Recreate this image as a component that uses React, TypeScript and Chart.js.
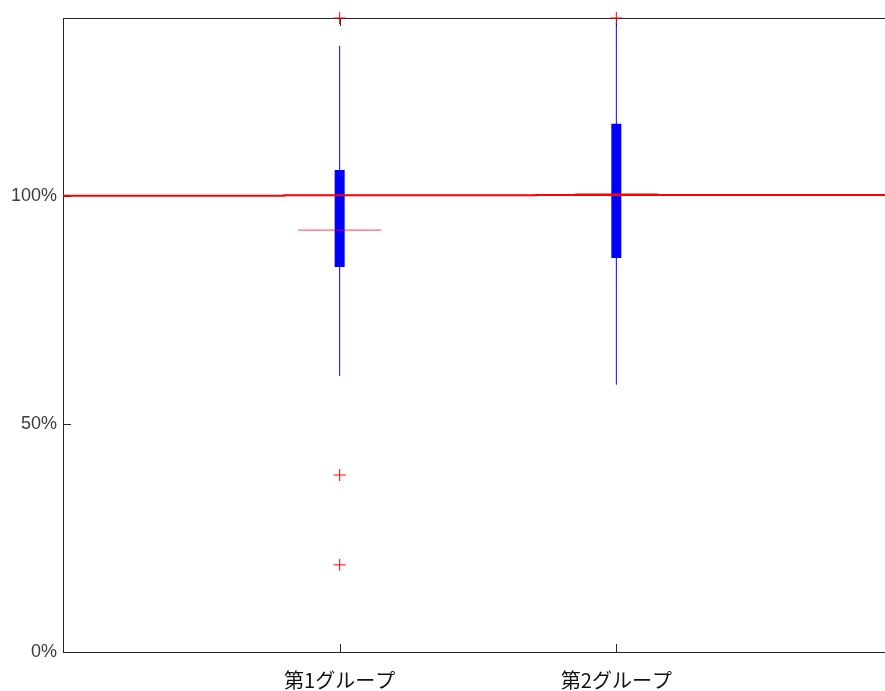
import React, { useEffect, useRef } from "react";
import { Chart, registerables } from "chart.js";

Chart.register(...registerables);

// ---- data ----
const categories = ["第1グループ", "第2グループ"];
const categoryPositions = [1, 2];
const whiskerLow = [60.5, 58.6];
const q1 = [84.4, 86.4];
const medians = [92.5, 100.45];
const q3 = [105.7, 115.8];
const whiskerHigh = [132.9, 138.0];
const outliersGroup1 = [139.0, 38.8, 19.1];
const outliersGroup2 = [139.0];
const yTickValues = [0, 50, 100];
// red reference line (stepped around 100%)
const refLineX = [0, 0.8, 1.71, 2.8, 3];
const refLineY = [99.8, 100.05, 100.15, 100.2, 100.2];

const X_MIN = 0;
const X_MAX = 3;
const Y_MIN = 0;
const Y_MAX = 139;
const MEDIAN_HALF = 0.15;

const framePlugin = {
  id: "matlabFrame",
  beforeDatasetsDraw(chart: any) {
    const { ctx, chartArea } = chart;
    const { left, top, right, bottom } = chartArea;
    const xs = chart.scales.x;
    const ys = chart.scales.y;
    ctx.save();
    ctx.strokeStyle = "#262626";
    ctx.lineWidth = 1;
    ctx.strokeRect(Math.round(left) + 0.5, Math.round(top) + 0.5, Math.round(right - left), Math.round(bottom - top));
    const tl = 8;
    ctx.beginPath();
    for (const t of xs.ticks) {
      const px = Math.round(xs.getPixelForValue(t.value)) + 0.5;
      ctx.moveTo(px, bottom);
      ctx.lineTo(px, bottom - tl);
      ctx.moveTo(px, top);
      ctx.lineTo(px, top + tl);
    }
    for (const t of ys.ticks) {
      const py = Math.round(ys.getPixelForValue(t.value)) + 0.5;
      ctx.moveTo(left, py);
      ctx.lineTo(left + tl, py);
      ctx.moveTo(right, py);
      ctx.lineTo(right - tl, py);
    }
    ctx.stroke();
    ctx.restore();
  },
};

export default function App() {
  const canvasRef = useRef<HTMLCanvasElement | null>(null);

  useEffect(() => {
    document.body.style.margin = "0";
    const canvas = canvasRef.current;
    if (!canvas) return;

    const datasets: any[] = [];
    categoryPositions.forEach((pos, i) => {
      datasets.push({
        label: "whisker" + i,
        data: [
          { x: pos, y: whiskerLow[i] },
          { x: pos, y: whiskerHigh[i] },
        ],
        showLine: true,
        borderColor: "#0000ff",
        borderWidth: 1,
        pointRadius: 0,
        order: 5,
      });
      datasets.push({
        label: "box" + i,
        data: [
          { x: pos, y: q1[i] },
          { x: pos, y: q3[i] },
        ],
        showLine: true,
        borderColor: "#0000ff",
        borderWidth: 10,
        borderCapStyle: "butt",
        pointRadius: 0,
        order: 4,
      });
      datasets.push({
        label: "median" + i,
        data: [
          { x: pos - MEDIAN_HALF, y: medians[i] },
          { x: pos + MEDIAN_HALF, y: medians[i] },
        ],
        showLine: true,
        borderColor: "rgba(255,0,0,0.75)",
        borderWidth: 1,
        pointRadius: 0,
        order: 2,
      });
    });
    datasets.push({
      label: "reference",
      data: refLineX.map((x, i) => ({ x, y: refLineY[i] })),
      showLine: true,
      stepped: "after",
      borderColor: "#ff0000",
      borderWidth: 2,
      pointRadius: 0,
      order: 3,
    });
    datasets.push({
      label: "outliers",
      data: [
        ...outliersGroup1.map((y) => ({ x: categoryPositions[0], y })),
        ...outliersGroup2.map((y) => ({ x: categoryPositions[1], y })),
      ],
      showLine: false,
      pointStyle: "cross",
      pointRadius: 6,
      borderColor: "#ff0000",
      borderWidth: 1,
      clip: false,
      order: 1,
    });

    const chart = new Chart(canvas, {
      type: "scatter",
      data: { datasets },
      options: {
        responsive: false,
        animation: false,
        events: [],
        layout: { padding: { top: 18, right: 5, left: 0, bottom: 0 } },
        plugins: {
          legend: { display: false },
          tooltip: { enabled: false },
        },
        scales: {
          x: {
            type: "linear",
            position: "bottom",
            min: X_MIN,
            max: X_MAX,
            grid: { display: false, drawTicks: false },
            border: { display: false },
            afterBuildTicks: (scale: any) => {
              scale.ticks = categoryPositions.map((v) => ({ value: v }));
            },
            afterFit: (scale: any) => {
              scale.height = 39;
            },
            ticks: {
              autoSkip: false,
              maxRotation: 0,
              padding: 16,
              color: "#111",
              font: { family: "'Noto Sans CJK JP', sans-serif", size: 20 },
              callback: (_v: any, index: number) => categories[index],
            },
          },
          y: {
            type: "linear",
            position: "left",
            min: Y_MIN,
            max: Y_MAX,
            grid: { display: false, drawTicks: false },
            border: { display: false },
            afterBuildTicks: (scale: any) => {
              scale.ticks = yTickValues.map((v) => ({ value: v }));
            },
            afterFit: (scale: any) => {
              scale.width = 63;
            },
            ticks: {
              padding: 6,
              color: "#3c3c3c",
              font: { family: "'Liberation Sans', Arial, sans-serif", size: 18 },
              callback: (v: any) => v + "%",
            },
          },
        },
      },
      plugins: [framePlugin],
    });
    return () => chart.destroy();
  }, []);

  return (
    <div
      style={{
        position: "absolute",
        left: 0,
        top: 0,
        width: 885,
        height: 691,
        overflow: "hidden",
        background: "#fff",
      }}
    >
      <canvas ref={canvasRef} width={900} height={691} style={{ display: "block" }} />
    </div>
  );
}
